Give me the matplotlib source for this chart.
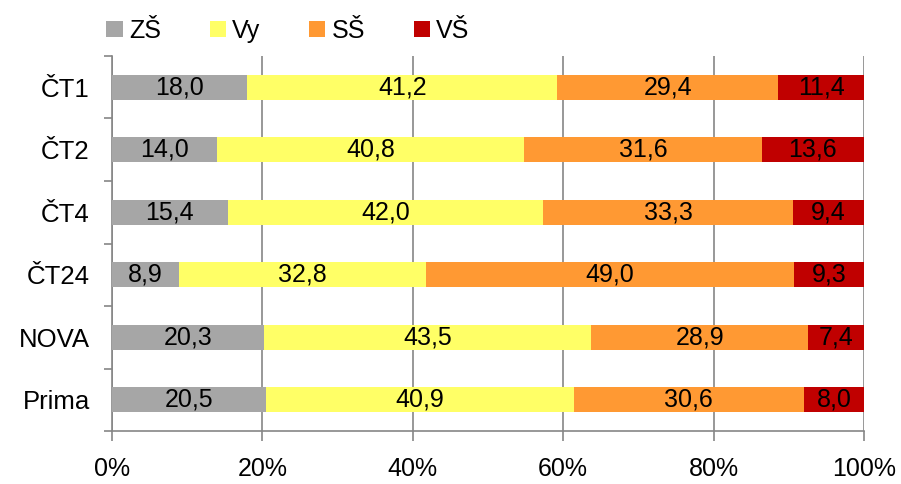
import matplotlib.pyplot as plt
import numpy as np

plt.rcParams['font.family'] = ['Liberation Sans', 'DejaVu Sans']

channels = ['ČT1', 'ČT2', 'ČT4', 'ČT24', 'NOVA', 'Prima']
groups = ['ZŠ', 'Vy', 'SŠ', 'VŠ']
zs = [18.0, 14.0, 15.4, 8.9, 20.3, 20.5]
vy = [41.2, 40.8, 42.0, 32.8, 43.5, 40.9]
ss = [29.4, 31.6, 33.3, 49.0, 28.9, 30.6]
vs = [11.4, 13.6, 9.4, 9.3, 7.4, 8.0]
colors = ['#A6A6A6', '#FFFF66', '#FF9933', '#C00000']
xticks = [0, 20, 40, 60, 80, 100]
xlabels = ['0%', '20%', '40%', '60%', '80%', '100%']

data = np.array([zs, vy, ss, vs])
share = data / data.sum(axis=0) * 100

fig = plt.figure(figsize=(9.01, 4.84), dpi=100)
ax = fig.add_axes([0.1243, 0.1095, 0.8346, 0.7748])

fs = 18
y = np.arange(len(channels))
left = np.zeros(len(channels))
handles = []
for i in range(len(groups)):
    b = ax.barh(y, share[i], left=left, height=0.4, color=colors[i], zorder=3, label=groups[i])
    for j in range(len(channels)):
        ax.text(left[j] + share[i][j] / 2, y[j], f'{data[i][j]:.1f}'.replace('.', ','),
                ha='center', va='center', fontsize=fs, zorder=4)
    left += share[i]
    handles.append(b)

ax.set_xlim(0, 100)
ax.set_ylim(len(channels) - 0.5, -0.5)
ax.set_xticks(xticks)
ax.set_xticklabels(xlabels, fontsize=fs)
ax.set_yticks(y)
ax.set_yticklabels(channels, fontsize=18.5)
ax.set_yticks(np.arange(-0.5, len(channels), 1), minor=True)
ax.tick_params(axis='y', which='major', length=0, pad=16)
ax.tick_params(axis='y', which='minor', length=6, color='#868686', width=1.2, direction='out')
ax.tick_params(axis='x', length=7, color='#868686', width=1.2, direction='out', pad=12)
ax.grid(axis='x', color='#868686', linewidth=1.2, zorder=0)
for s in ['top', 'right']:
    ax.spines[s].set_visible(False)
for s in ['left', 'bottom']:
    ax.spines[s].set_color('#868686')
    ax.spines[s].set_linewidth(1.2)

fig.legend(handles=handles, labels=groups, loc='upper left', bbox_to_anchor=(0.093, 1.008),
           ncol=4, frameon=False, fontsize=fs, handlelength=0.65, handleheight=0.65,
           handletextpad=0.25, columnspacing=1.95)

fig.savefig('out.png', dpi=100)
